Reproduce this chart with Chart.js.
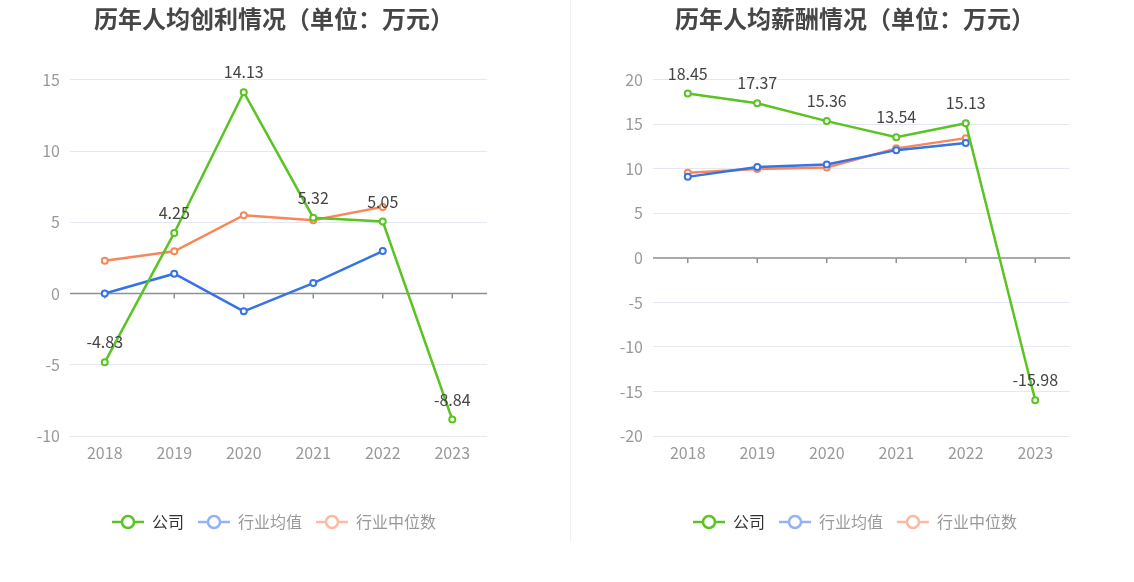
<!DOCTYPE html>
<html>
<head>
<meta charset="utf-8">
<script src="https://cdn.jsdelivr.net/npm/chart.js@4.4.1/dist/chart.umd.min.js"></script>
<style>
    html, body { margin: 0; padding: 0; background: #fff; }
    #wrap { position: relative; width: 1134px; height: 582px; }
    .box { position: absolute; top: 0; height: 582px; }
    #left { left: 0; width: 570px; }
    #right { left: 570px; width: 564px; }
    #divider { position: absolute; left: 570px; top: 0; width: 1px; height: 542px; background: #eef0f4; }
</style>
</head>
<body>
<div id="wrap">
    <div class="box" id="left"><canvas id="profitChart"></canvas></div>
    <div id="divider"></div>
    <div class="box" id="right"><canvas id="salaryChart"></canvas></div>
</div>
<script>
"use strict";

const years = ['2018', '2019', '2020', '2021', '2022', '2023'];
const seriesNames = ['公司', '行业均值', '行业中位数'];

// 人均创利
const profitCompany = [-4.83, 4.25, 14.13, 5.32, 5.05, -8.84];
const profitAvg = [0.0, 1.39, -1.25, 0.73, 2.98, null];
const profitMedian = [2.3, 2.96, 5.5, 5.15, 6.08, null];

// 人均薪酬
const salaryCompany = [18.45, 17.37, 15.36, 13.54, 15.13, -15.98];
const salaryAvg = [9.1, 10.2, 10.5, 12.1, 12.9, null];
const salaryMedian = [9.55, 9.97, 10.15, 12.3, 13.45, null];

const FONT = '"Noto Sans CJK SC", "Noto Sans", sans-serif';
const GREEN = '#5bc322';
const BLUE = '#3673e4';
const ORANGE = '#f7875a';
const legendColors = [GREEN, '#93b3f4', '#fcbaa2'];
const legendText = ['#333', '#999', '#999'];

function legendSymbol(color) {
    const c = document.createElement('canvas');
    c.width = 32;
    c.height = 16;
    const g = c.getContext('2d');
    g.strokeStyle = color;
    g.lineWidth = 2.5;
    g.beginPath();
    g.moveTo(0, 8);
    g.lineTo(32, 8);
    g.stroke();
    g.beginPath();
    g.arc(16, 8, 6, 0, Math.PI * 2);
    g.fillStyle = '#fff';
    g.fill();
    g.stroke();
    return c;
}
const symbols = legendColors.map(legendSymbol);

// zero axis line with ticks at categories
const zeroAxis = {
    id: 'zeroAxis',
    beforeDatasetsDraw(chart) {
        const { ctx, chartArea, scales } = chart;
        const y0 = scales.y.getPixelForValue(0);
        ctx.save();
        ctx.strokeStyle = '#8c8f99';
        ctx.lineWidth = 1.5;
        ctx.beginPath();
        ctx.moveTo(chartArea.left, y0);
        ctx.lineTo(chartArea.right, y0);
        scales.x.ticks.forEach((t, i) => {
            const x = scales.x.getPixelForTick(i);
            ctx.moveTo(x, y0);
            ctx.lineTo(x, y0 + 5);
        });
        ctx.stroke();
        ctx.restore();
    }
};

// value labels above the company line
const valueLabels = {
    id: 'valueLabels',
    afterDatasetsDraw(chart) {
        const { ctx } = chart;
        const meta = chart.getDatasetMeta(0);
        const values = chart.data.datasets[0].data;
        ctx.save();
        ctx.font = '16px ' + FONT;
        ctx.fillStyle = '#444';
        ctx.textAlign = 'center';
        ctx.textBaseline = 'middle';
        meta.data.forEach((pt, i) => {
            if (values[i] === null) return;
            ctx.fillText(values[i].toFixed(2), pt.x, pt.y - 20);
        });
        ctx.restore();
    }
};

function makeDataset(label, data, color) {
    return {
        label: label,
        data: data,
        borderColor: color,
        backgroundColor: '#fff',
        borderWidth: 2.5,
        pointRadius: 3,
        pointBorderWidth: 2,
        pointBackgroundColor: '#fff',
        pointBorderColor: color,
        tension: 0,
        spanGaps: false
    };
}

// side = {padL, padR, yW, y2W}
function makeChart(canvasId, title, company, avg, median, yMin, yMax, side) {
    const ctx = document.getElementById(canvasId);
    new Chart(ctx, {
        type: 'line',
        data: {
            labels: years,
            datasets: [
                makeDataset(seriesNames[0], company, GREEN),
                makeDataset(seriesNames[1], avg, BLUE),
                makeDataset(seriesNames[2], median, ORANGE)
            ]
        },
        options: {
            responsive: true,
            maintainAspectRatio: false,
            animation: false,
            events: [],
            layout: { padding: { left: side.padL, right: side.padR, top: 0, bottom: 42 } },
            plugins: {
                title: {
                    display: true,
                    text: title,
                    color: '#464646',
                    font: { family: FONT, size: 24, weight: 'bold' },
                    padding: { top: 4, bottom: 47 }
                },
                legend: {
                    position: 'bottom',
                    labels: {
                        usePointStyle: true,
                        pointStyleWidth: 32,
                        padding: 14,
                        font: { family: FONT, size: 16 },
                        generateLabels: () => seriesNames.map((n, i) => ({
                            text: n,
                            pointStyle: symbols[i],
                            fontColor: legendText[i],
                            lineWidth: 0,
                            strokeStyle: 'transparent',
                            fillStyle: 'transparent',
                            datasetIndex: i
                        }))
                    }
                },
                tooltip: { enabled: false }
            },
            scales: {
                x: {
                    offset: true,
                    afterFit: (s) => { s.height = 64; },
                    grid: { display: false, drawTicks: false },
                    border: { display: false },
                    ticks: {
                        color: '#999',
                        font: { family: FONT, size: 16 },
                        padding: 7
                    }
                },
                y: {
                    min: yMin,
                    max: yMax,
                    afterFit: (s) => { s.width = side.yW; },
                    border: { display: false },
                    grid: {
                        color: (c) => c.tick && c.tick.value === 0 ? 'transparent' : '#e3e8f2',
                        drawTicks: false
                    },
                    ticks: {
                        stepSize: 5,
                        color: '#999',
                        padding: 10,
                        font: { family: FONT, size: 16 }
                    }
                },
                y2: {
                    position: 'right',
                    min: yMin,
                    max: yMax,
                    afterFit: (s) => { s.width = side.y2W; },
                    border: { display: false },
                    grid: { display: false, drawTicks: false },
                    ticks: { callback: () => '' }
                }
            }
        },
        plugins: [zeroAxis, valueLabels]
    });
}

makeChart('profitChart', '历年人均创利情况（单位：万元）', profitCompany, profitAvg, profitMedian, -10, 15,
    { padL: 0, padR: 22, yW: 70, y2W: 61 });
makeChart('salaryChart', '历年人均薪酬情况（单位：万元）', salaryCompany, salaryAvg, salaryMedian, -20, 20,
    { padL: 6, padR: 0, yW: 77, y2W: 64 });
</script>
</body>
</html>
